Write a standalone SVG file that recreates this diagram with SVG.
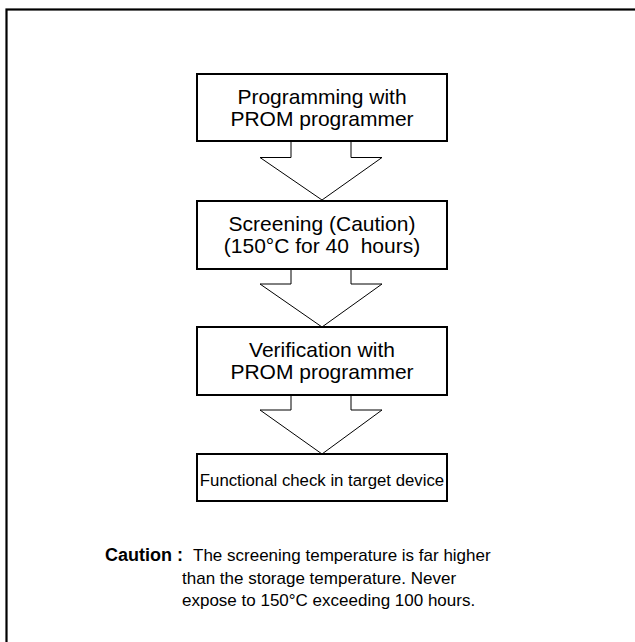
<svg xmlns="http://www.w3.org/2000/svg" width="635" height="642" viewBox="0 0 635 642">
<style>
.box{fill:#fff;stroke:#000;stroke-width:2}
.arr{fill:#fff;stroke:#000;stroke-width:1}
.t{font-family:"Liberation Sans",Arial,sans-serif;font-size:21px;fill:#000;text-anchor:middle}
.s{font-family:"Liberation Sans",Arial,sans-serif;font-size:17px;fill:#000}
.b{font-weight:bold;font-size:18px}
</style>
<rect x="0" y="0" width="635" height="642" fill="#fff"/>
<rect x="6.5" y="9.5" width="700" height="700" fill="none" stroke="#000" stroke-width="2.2"/>
<g id="connectors">
<polygon class="arr" points="291,141 351,141 351,157.5 382,157.5 322,200 260,157.5 291,157.5"/>
<polygon class="arr" points="291,269 351,269 351,284 382,284 322,327 260,284 291,284"/>
<polygon class="arr" points="291,395 351,395 351,410 382,410 322,454 260,410 291,410"/>
</g>
<g id="node1">
<rect class="box" x="197" y="74" width="250" height="67"/>
<text class="t" x="322" y="103.5">Programming with</text>
<text class="t" x="322" y="125.5">PROM programmer</text>
</g>
<g id="node2">
<rect class="box" x="197" y="201" width="250" height="68"/>
<text class="t" x="322" y="230.5">Screening (Caution)</text>
<text class="t" x="322" y="252.5" xml:space="preserve">(150°C for 40  hours)</text>
</g>
<g id="node3">
<rect class="box" x="197" y="327" width="250" height="68"/>
<text class="t" x="322" y="357">Verification with</text>
<text class="t" x="322" y="379">PROM programmer</text>
</g>
<g id="node4">
<rect class="box" x="197" y="454" width="250" height="47"/>
<text class="t" x="322" y="486" style="font-size:16.8px">Functional check in target device</text>
</g>
<g id="note">
<text class="s b" x="105" y="561">Caution :</text>
<text class="s" x="193" y="561">The screening temperature is far higher</text>
<text class="s" x="182" y="583.5">than the storage temperature. Never</text>
<text class="s" x="182" y="606">expose to 150°C exceeding 100 hours.</text>
</g>
</svg>
